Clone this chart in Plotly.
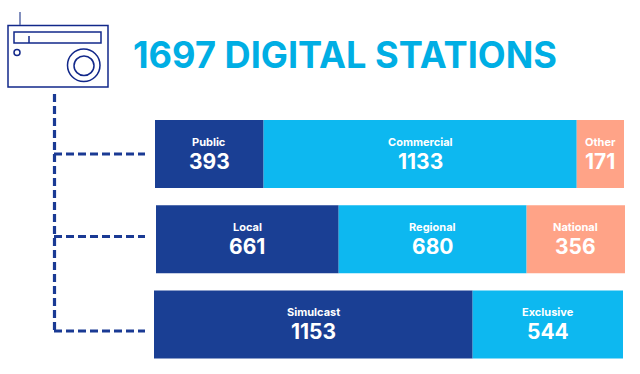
import plotly.graph_objects as go

W, H = 640, 374
title = "1697 DIGITAL STATIONS"
rows = ["Ownership", "Coverage", "Broadcast"]
row_labels = [["Public", "Commercial", "Other"], ["Local", "Regional", "National"], ["Simulcast", "Exclusive"]]
row_values = [[393, 1133, 171], [661, 680, 356], [1153, 544]]
row_colors = [["#1a3f94", "#0db8f0", "#ffa387"], ["#1a3f94", "#0db8f0", "#ffa387"], ["#1a3f94", "#0db8f0"]]

PX = 469 / 1697
X0 = 155
ROW_STEP = 85.25
row_nudge_px = [0, 1, -1]
FONT = "Inter, Lato, sans-serif"
LINE = "#12288a"
DASH = "#1a3a94"

fig = go.Figure()
annotations = []
for r, name in enumerate(rows):
    cum = 0
    for lab, val, col in zip(row_labels[r], row_values[r], row_colors[r]):
        base = cum + row_nudge_px[r] / PX
        fig.add_trace(go.Bar(
            y=[r], x=[val], base=[base], orientation="h", name=lab,
            marker=dict(color=col, line=dict(width=0)),
            showlegend=False, hoverinfo="skip",
        ))
        mid = base + val / 2
        annotations.append(dict(text=f"<b>{lab}</b>", x=mid, y=r, xref="x", yref="y", yshift=12.5,
                                showarrow=False, font=dict(family=FONT, size=11, color="white")))
        annotations.append(dict(text=f"<b>{val}</b>", x=mid, y=r, xref="x", yref="y", yshift=-7,
                                showarrow=False, font=dict(family=FONT, size=21, color="white")))
        cum += val

def px(x): return x / W
def py(y): return 1 - y / H

shapes = []
def add(kind, x0, y0, x1, y1, color=LINE, width=1.5, dash="solid"):
    shapes.append(dict(type=kind, xref="paper", yref="paper", x0=px(x0), y0=py(y0), x1=px(x1), y1=py(y1),
                       line=dict(color=color, width=width, dash=dash), layer="above"))

add("rect", 8, 25.5, 108, 87)
add("rect", 14, 32, 101, 43)
add("line", 29, 36, 29, 43)
add("line", 20, 12, 20, 25, color="#5a6ba8")
add("circle", 14, 49.5, 20, 55.5)
add("circle", 67.5, 49, 100, 81.5)
add("circle", 74, 56, 94, 75.5)
dash = "8px,4px"
add("line", 54.5, 94, 54.5, 331, color=DASH, width=3.2, dash=dash)
for y in [154, 236.5, 331]:
    add("line", 54, y, 145, y, color=DASH, width=3.2, dash=dash)

annotations.append(dict(text=f"<b>{title}</b>", xref="paper", yref="paper", x=px(131), y=py(55),
                        xanchor="left", yanchor="middle", showarrow=False,
                        font=dict(family=FONT, size=36.2, color="#00aee4")))

fig.update_layout(
    width=W, height=H, margin=dict(l=0, r=0, t=0, b=0),
    paper_bgcolor="white", plot_bgcolor="white", barmode="overlay", bargap=0.2,
    xaxis=dict(range=[-X0 / PX, (W - X0) / PX], visible=False, fixedrange=True),
    yaxis=dict(range=[(H - 154) / ROW_STEP, -154 / ROW_STEP], visible=False, fixedrange=True),
    shapes=shapes,
    annotations=annotations,
)
fig.write_html("out.html", post_script="document.body.style.margin='0';", config={"displayModeBar": False})
